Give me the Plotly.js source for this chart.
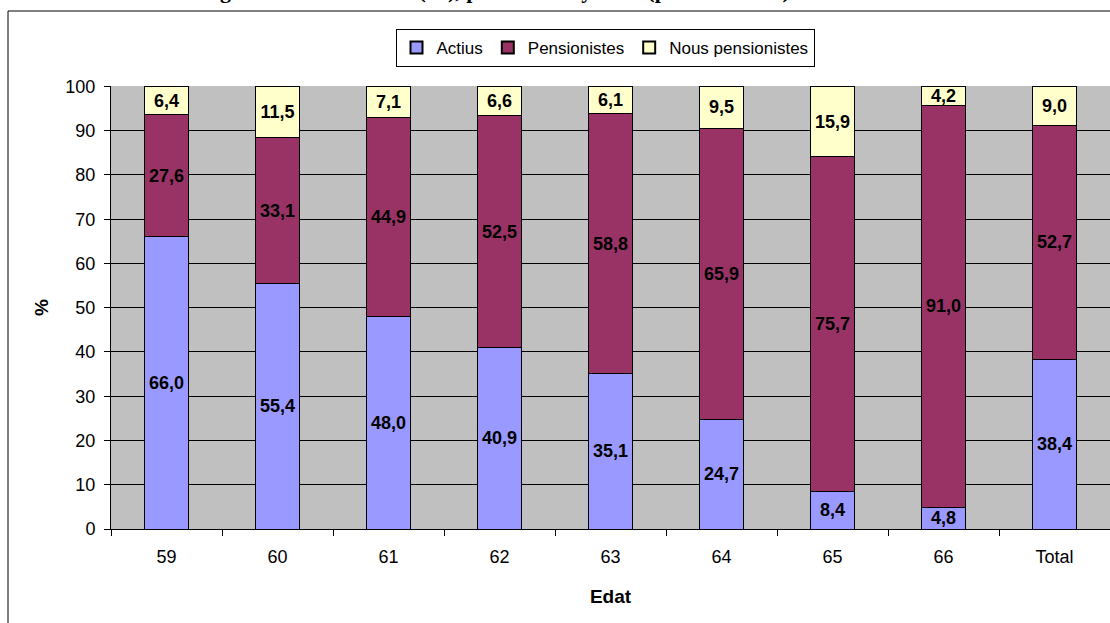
<!DOCTYPE html>
<html>
<head>
<meta charset="utf-8">
<script src="https://cdn.plot.ly/plotly-3.0.1.min.js"></script>
<style>html,body{margin:0;padding:0;background:#fff;}#chart{width:1110px;height:623px;}</style>
</head>
<body>
<div id="chart"></div>
<script>
var categories = ['59','60','61','62','63','64','65','66','Total'];
var actius = [66.0,55.4,48.0,40.9,35.1,24.7,8.4,4.8,38.4];
var pensionistes = [27.6,33.1,44.9,52.5,58.8,65.9,75.7,91.0,52.7];
var nousPensionistes = [6.4,11.5,7.1,6.6,6.1,9.5,15.9,4.2,9.0];
var seriesNames = ['Actius','Pensionistes','Nous pensionistes'];
var seriesColors = ['#9999FF','#993366','#FFFFCC'];
var titleText = 'Distribució segons situació laboral (%), per edat. Any 2005 (població total)';

function mk(vals, i){
  return {
    type:'bar', x:categories, y:vals, name:seriesNames[i],
    marker:{color:seriesColors[i], line:{color:'#000', width:1}},
    texttemplate:'%{y:.1f}', textposition:'inside', insidetextanchor:'middle',
    constraintext:'none', cliponaxis:false,
    textfont:{family:'Liberation Sans, Arial, sans-serif', size:18, color:'#000', weight:'bold'},
    hoverinfo:'skip'
  };
}
var data = [mk(actius,0), mk(pensionistes,1), mk(nousPensionistes,2)];

var L=111, T=86, B=94, R=0, W=1110, H=623;
var pw = W-L-R, ph = H-T-B;
function px2x(p){return (p-L)/pw;}
function py2y(p){return (H-B-p)/ph;}

var layout = {
  width:W, height:H, barmode:'stack', bargap:0.6,
  separators:',.',
  margin:{l:L,r:R,t:T,b:B,pad:0},
  paper_bgcolor:'#fff', plot_bgcolor:'#C0C0C0',
  font:{family:'Liberation Sans, Arial, sans-serif', size:18, color:'#000'},
  showlegend:true,
  legend:{orientation:'h', x:px2x(605), xanchor:'center', y:py2y(29), yanchor:'top',
    bgcolor:'#fff', bordercolor:'#000', borderwidth:1, traceorder:'normal',
    font:{size:17}, itemwidth:30, itemsizing:'constant', tracegroupgap:0},
  xaxis:{type:'category', tickson:'boundaries', ticks:'outside', ticklen:6, tickcolor:'#000',
    showline:true, linecolor:'#000', linewidth:1, showgrid:false,
    tickfont:{size:18}, fixedrange:true, ticklabelstandoff:11,
    title:{text:'Edat', font:{size:19, weight:'bold'}, standoff:24}},
  yaxis:{range:[0,100.1001], tickvals:[0,10,20,30,40,50,60,70,80,90,100], ticks:'outside', ticklen:6, tickcolor:'#000',
    showline:true, linecolor:'#000', linewidth:1, showgrid:true, gridcolor:'#000', gridwidth:1,
    zeroline:false, tickfont:{size:18}, fixedrange:true, ticklabelstandoff:5,
    title:{text:'%', font:{size:19, weight:'bold'}, standoff:11}},
  shapes:[{type:'rect', xref:'paper', yref:'paper', x0:px2x(8), x1:px2x(1120), y0:py2y(11), y1:py2y(640),
    line:{color:'#000', width:1}, fillcolor:'rgba(0,0,0,0)', layer:'below'}],
  annotations:[{text:'<b>'+titleText+'</b>', xref:'paper', yref:'paper', x:px2x(440), y:py2y(5),
    xanchor:'center', yanchor:'bottom', showarrow:false,
    font:{family:'Liberation Serif, Times New Roman, serif', size:22, color:'#000'}}]
};
Plotly.newPlot('chart', data, layout, {displayModeBar:false, staticPlot:true});
</script>
</body>
</html>
